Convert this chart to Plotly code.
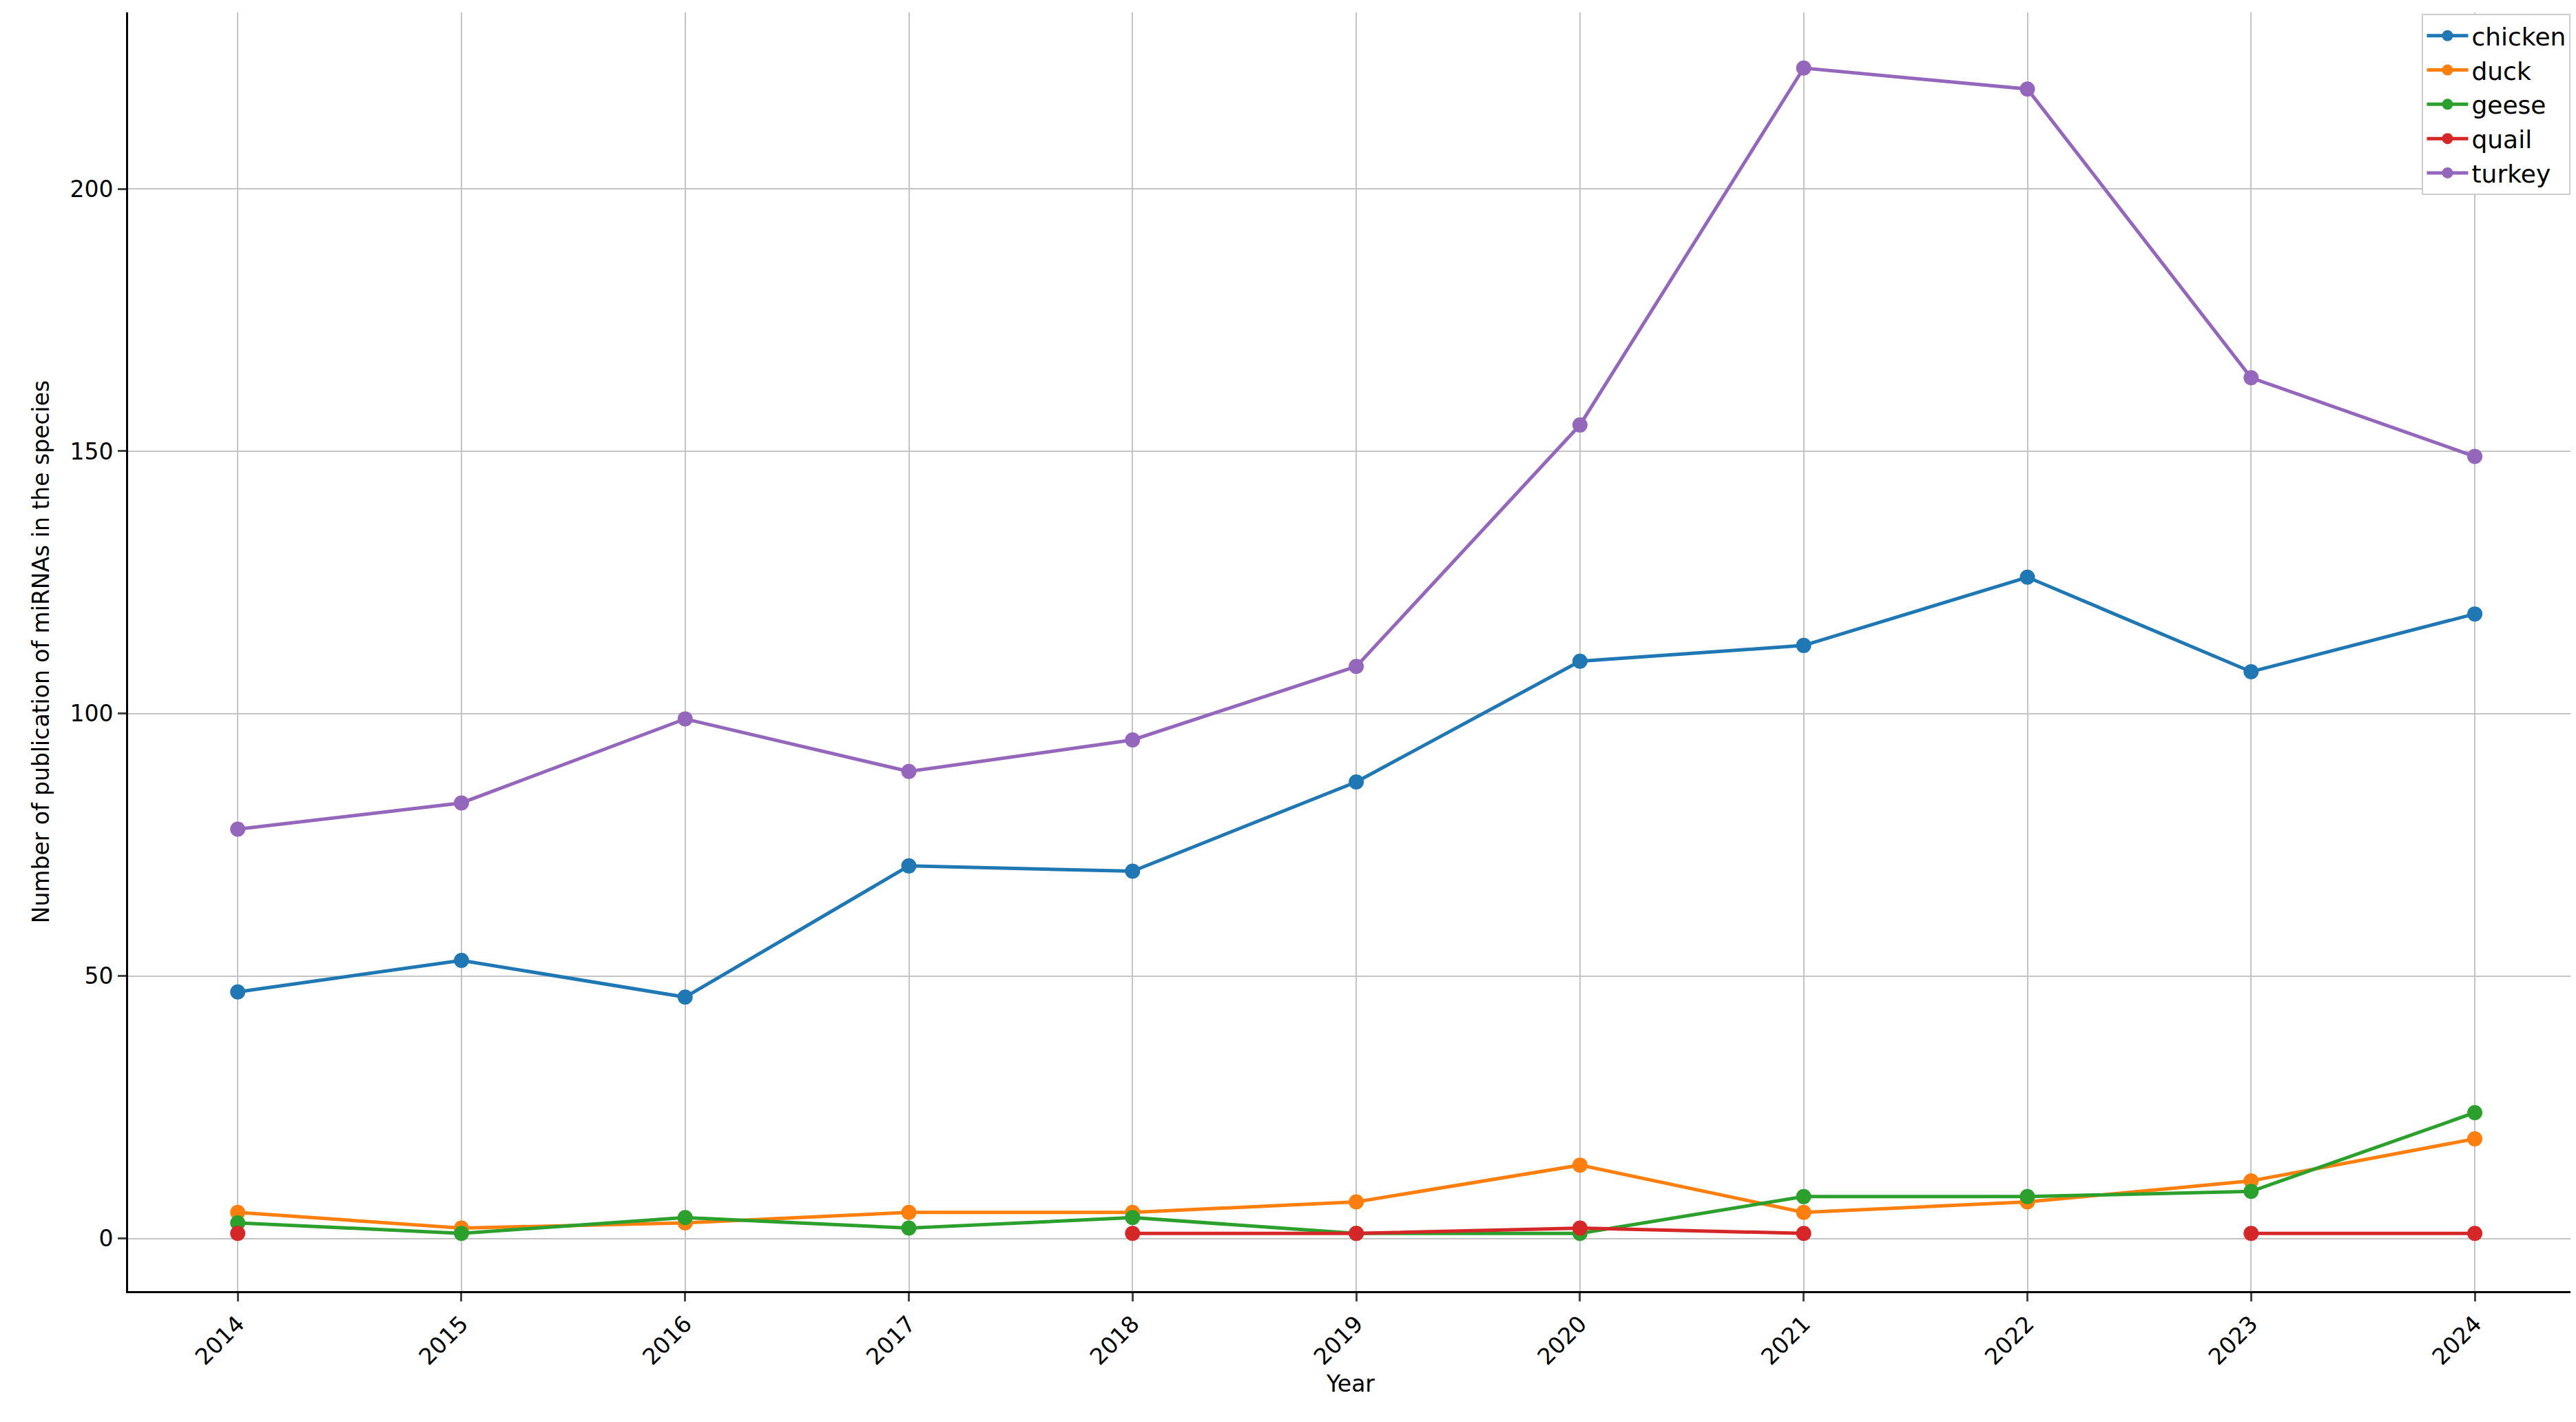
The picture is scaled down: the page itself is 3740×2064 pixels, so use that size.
import plotly.graph_objects as go

years = [2014, 2015, 2016, 2017, 2018, 2019, 2020, 2021, 2022, 2023, 2024]
chicken = [47, 53, 46, 71, 70, 87, 110, 113, 126, 108, 119]
duck = [5, 2, 3, 5, 5, 7, 14, 5, 7, 11, 19]
geese = [3, 1, 4, 2, 4, 1, 1, 8, 8, 9, 24]
quail = [1, None, None, None, 1, 1, 2, 1, None, 1, 1]
turkey = [78, 83, 99, 89, 95, 109, 155, 223, 219, 164, 149]

series = [("chicken", chicken, "#1f77b4"), ("duck", duck, "#ff7f0e"),
          ("geese", geese, "#2ca02c"), ("quail", quail, "#d62728"),
          ("turkey", turkey, "#9467bd")]

fig = go.Figure()
for name, vals, col in series:
    fig.add_trace(go.Scatter(x=years, y=vals, name=name, mode="lines+markers",
                             line=dict(color=col, width=5), marker=dict(size=22, color=col),
                             connectgaps=False))

fig.update_layout(
    width=3740, height=2064, paper_bgcolor="white", plot_bgcolor="white",
    margin=dict(l=178, r=12, t=10, b=198),
    font=dict(family="DejaVu Sans", size=33, color="black"),
    legend=dict(x=0.999, y=0.999, xanchor="right", yanchor="top",
                bordercolor="#cccccc", borderwidth=2, font=dict(size=36), bgcolor="white",
                itemwidth=60),
    xaxis=dict(range=[2013.51, 2024.44], tickvals=years, ticktext=[str(y) for y in years],
               tickangle=-45, showgrid=True, gridcolor="#c4c4c4", gridwidth=2,
               showline=True, linecolor="black", linewidth=3, ticks="outside",
               ticklen=12, tickwidth=3, title=dict(text="Year", font=dict(size=33), standoff=5),
               zeroline=False),
    yaxis=dict(range=[-10, 233.6], tickvals=[0, 50, 100, 150, 200], showgrid=True,
               gridcolor="#c4c4c4", gridwidth=2, showline=True, linecolor="black",
               linewidth=3, ticks="outside", ticklen=12, tickwidth=3, zeroline=False,
               title=dict(text="Number of publication of miRNAs in the species", font=dict(size=33), standoff=20)),
)
fig.write_html("out.html")
